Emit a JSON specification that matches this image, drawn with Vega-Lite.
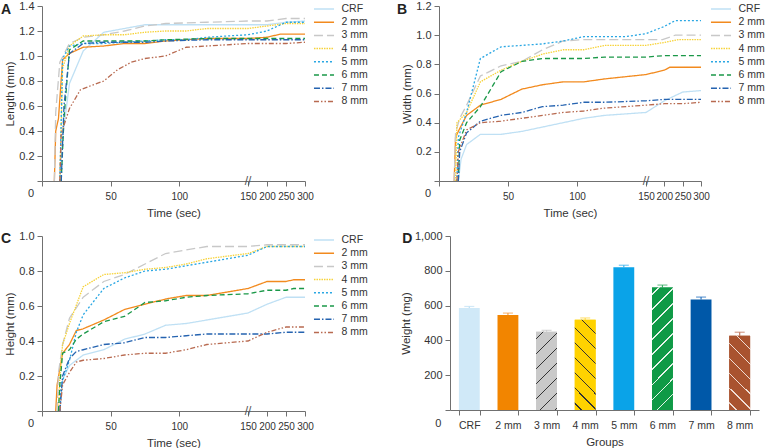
{
"$schema":"https://vega.github.io/schema/vega-lite/v6.json",
"padding":{"left":0,"top":0,"right":0,"bottom":0},
"config":{"font":"Liberation Sans","view":{"stroke":null},
 "axis":{"domainColor":"#707070","tickColor":"#707070","labelColor":"#333","titleColor":"#333","labelFontSize":11,"titleFontSize":11.5,"titleFontWeight":"normal","grid":false,"tickSize":5,"labelOverlap":false,"tickCount":20},
 "axisX":{"labelPadding":5,"titlePadding":6},
 "axisY":{"labelPadding":3,"titlePadding":3},
 "text":{"color":"#333","fontSize":11},
 "legend":{"padding":0}},
"datasets":{
"len":[
{"g":"CRF","t":13,"v":0},{"g":"CRF","t":15,"v":0.35},{"g":"CRF","t":20,"v":0.78},{"g":"CRF","t":30,"v":1.04},{"g":"CRF","t":45,"v":1.19},{"g":"CRF","t":75,"v":1.25},{"g":"CRF","t":150,"v":1.25},{"g":"CRF","t":200,"v":1.25},{"g":"CRF","t":250,"v":1.27},{"g":"CRF","t":300,"v":1.28},
{"g":"2 mm","t":9,"v":0},{"g":"2 mm","t":10,"v":0.4},{"g":"2 mm","t":12,"v":0.5},{"g":"2 mm","t":15,"v":0.97},{"g":"2 mm","t":20,"v":1.02},{"g":"2 mm","t":30,"v":1.07},{"g":"2 mm","t":45,"v":1.08},{"g":"2 mm","t":60,"v":1.1},{"g":"2 mm","t":75,"v":1.1},{"g":"2 mm","t":90,"v":1.12},{"g":"2 mm","t":120,"v":1.14},{"g":"2 mm","t":150,"v":1.14},{"g":"2 mm","t":200,"v":1.15},{"g":"2 mm","t":235,"v":1.175},{"g":"2 mm","t":300,"v":1.175},
{"g":"3 mm","t":9,"v":0},{"g":"3 mm","t":10,"v":0.55},{"g":"3 mm","t":13,"v":0.95},{"g":"3 mm","t":20,"v":1.1},{"g":"3 mm","t":30,"v":1.15},{"g":"3 mm","t":45,"v":1.17},{"g":"3 mm","t":60,"v":1.2},{"g":"3 mm","t":75,"v":1.24},{"g":"3 mm","t":90,"v":1.26},{"g":"3 mm","t":120,"v":1.27},{"g":"3 mm","t":150,"v":1.28},{"g":"3 mm","t":200,"v":1.28},{"g":"3 mm","t":250,"v":1.3},{"g":"3 mm","t":300,"v":1.3},
{"g":"4 mm","t":13,"v":0},{"g":"4 mm","t":15,"v":0.9},{"g":"4 mm","t":20,"v":1.08},{"g":"4 mm","t":30,"v":1.16},{"g":"4 mm","t":45,"v":1.17},{"g":"4 mm","t":60,"v":1.17},{"g":"4 mm","t":75,"v":1.19},{"g":"4 mm","t":90,"v":1.2},{"g":"4 mm","t":105,"v":1.2},{"g":"4 mm","t":120,"v":1.22},{"g":"4 mm","t":150,"v":1.22},{"g":"4 mm","t":200,"v":1.24},{"g":"4 mm","t":250,"v":1.26},{"g":"4 mm","t":300,"v":1.26},
{"g":"5 mm","t":13,"v":0},{"g":"5 mm","t":15,"v":0.98},{"g":"5 mm","t":20,"v":1.08},{"g":"5 mm","t":30,"v":1.1},{"g":"5 mm","t":45,"v":1.1},{"g":"5 mm","t":60,"v":1.11},{"g":"5 mm","t":75,"v":1.12},{"g":"5 mm","t":90,"v":1.13},{"g":"5 mm","t":105,"v":1.13},{"g":"5 mm","t":120,"v":1.15},{"g":"5 mm","t":150,"v":1.17},{"g":"5 mm","t":200,"v":1.2},{"g":"5 mm","t":250,"v":1.27},{"g":"5 mm","t":300,"v":1.27},
{"g":"6 mm","t":14,"v":0},{"g":"6 mm","t":16,"v":0.5},{"g":"6 mm","t":20,"v":1.05},{"g":"6 mm","t":30,"v":1.12},{"g":"6 mm","t":45,"v":1.12},{"g":"6 mm","t":60,"v":1.12},{"g":"6 mm","t":75,"v":1.12},{"g":"6 mm","t":90,"v":1.13},{"g":"6 mm","t":120,"v":1.14},{"g":"6 mm","t":150,"v":1.14},{"g":"6 mm","t":200,"v":1.14},{"g":"6 mm","t":250,"v":1.14},{"g":"6 mm","t":300,"v":1.14},
{"g":"7 mm","t":14,"v":0},{"g":"7 mm","t":16,"v":0.6},{"g":"7 mm","t":20,"v":1.02},{"g":"7 mm","t":30,"v":1.1},{"g":"7 mm","t":45,"v":1.11},{"g":"7 mm","t":60,"v":1.11},{"g":"7 mm","t":75,"v":1.11},{"g":"7 mm","t":90,"v":1.12},{"g":"7 mm","t":120,"v":1.13},{"g":"7 mm","t":150,"v":1.13},{"g":"7 mm","t":200,"v":1.13},{"g":"7 mm","t":250,"v":1.13},{"g":"7 mm","t":300,"v":1.13},
{"g":"8 mm","t":13,"v":0},{"g":"8 mm","t":14,"v":0.38},{"g":"8 mm","t":20,"v":0.58},{"g":"8 mm","t":28,"v":0.73},{"g":"8 mm","t":35,"v":0.76},{"g":"8 mm","t":45,"v":0.8},{"g":"8 mm","t":55,"v":0.89},{"g":"8 mm","t":65,"v":0.95},{"g":"8 mm","t":75,"v":0.98},{"g":"8 mm","t":90,"v":1.0},{"g":"8 mm","t":105,"v":1.07},{"g":"8 mm","t":120,"v":1.08},{"g":"8 mm","t":150,"v":1.1},{"g":"8 mm","t":200,"v":1.1},{"g":"8 mm","t":250,"v":1.1},{"g":"8 mm","t":300,"v":1.11}
],
"wid":[
{"g":"CRF","t":14,"v":0},{"g":"CRF","t":16,"v":0.15},{"g":"CRF","t":20,"v":0.25},{"g":"CRF","t":30,"v":0.32},{"g":"CRF","t":45,"v":0.32},{"g":"CRF","t":60,"v":0.34},{"g":"CRF","t":75,"v":0.37},{"g":"CRF","t":90,"v":0.4},{"g":"CRF","t":105,"v":0.43},{"g":"CRF","t":120,"v":0.45},{"g":"CRF","t":150,"v":0.47},{"g":"CRF","t":200,"v":0.55},{"g":"CRF","t":250,"v":0.61},{"g":"CRF","t":300,"v":0.62},
{"g":"2 mm","t":11,"v":0},{"g":"2 mm","t":12,"v":0.3},{"g":"2 mm","t":15,"v":0.36},{"g":"2 mm","t":20,"v":0.45},{"g":"2 mm","t":30,"v":0.52},{"g":"2 mm","t":45,"v":0.56},{"g":"2 mm","t":60,"v":0.63},{"g":"2 mm","t":75,"v":0.66},{"g":"2 mm","t":90,"v":0.68},{"g":"2 mm","t":105,"v":0.68},{"g":"2 mm","t":120,"v":0.7},{"g":"2 mm","t":150,"v":0.73},{"g":"2 mm","t":200,"v":0.76},{"g":"2 mm","t":215,"v":0.78},{"g":"2 mm","t":300,"v":0.78},
{"g":"3 mm","t":11,"v":0},{"g":"3 mm","t":12,"v":0.33},{"g":"3 mm","t":15,"v":0.43},{"g":"3 mm","t":20,"v":0.52},{"g":"3 mm","t":30,"v":0.72},{"g":"3 mm","t":45,"v":0.79},{"g":"3 mm","t":60,"v":0.82},{"g":"3 mm","t":75,"v":0.9},{"g":"3 mm","t":90,"v":0.96},{"g":"3 mm","t":105,"v":0.97},{"g":"3 mm","t":150,"v":0.97},{"g":"3 mm","t":195,"v":0.97},{"g":"3 mm","t":230,"v":1.0},{"g":"3 mm","t":300,"v":1.0},
{"g":"4 mm","t":12,"v":0},{"g":"4 mm","t":13,"v":0.4},{"g":"4 mm","t":20,"v":0.47},{"g":"4 mm","t":30,"v":0.68},{"g":"4 mm","t":45,"v":0.76},{"g":"4 mm","t":60,"v":0.82},{"g":"4 mm","t":75,"v":0.87},{"g":"4 mm","t":90,"v":0.9},{"g":"4 mm","t":105,"v":0.9},{"g":"4 mm","t":120,"v":0.93},{"g":"4 mm","t":150,"v":0.93},{"g":"4 mm","t":200,"v":0.95},{"g":"4 mm","t":240,"v":0.97},{"g":"4 mm","t":300,"v":0.97},
{"g":"5 mm","t":13,"v":0},{"g":"5 mm","t":14,"v":0.3},{"g":"5 mm","t":20,"v":0.47},{"g":"5 mm","t":30,"v":0.84},{"g":"5 mm","t":45,"v":0.92},{"g":"5 mm","t":60,"v":0.93},{"g":"5 mm","t":75,"v":0.94},{"g":"5 mm","t":90,"v":0.96},{"g":"5 mm","t":105,"v":0.99},{"g":"5 mm","t":135,"v":0.99},{"g":"5 mm","t":150,"v":1.01},{"g":"5 mm","t":200,"v":1.06},{"g":"5 mm","t":230,"v":1.1},{"g":"5 mm","t":300,"v":1.1},
{"g":"6 mm","t":14,"v":0},{"g":"6 mm","t":15,"v":0.28},{"g":"6 mm","t":20,"v":0.4},{"g":"6 mm","t":30,"v":0.51},{"g":"6 mm","t":45,"v":0.75},{"g":"6 mm","t":60,"v":0.82},{"g":"6 mm","t":75,"v":0.84},{"g":"6 mm","t":105,"v":0.84},{"g":"6 mm","t":120,"v":0.85},{"g":"6 mm","t":150,"v":0.85},{"g":"6 mm","t":200,"v":0.86},{"g":"6 mm","t":250,"v":0.86},{"g":"6 mm","t":300,"v":0.86},
{"g":"7 mm","t":14,"v":0},{"g":"7 mm","t":15,"v":0.2},{"g":"7 mm","t":20,"v":0.33},{"g":"7 mm","t":30,"v":0.41},{"g":"7 mm","t":45,"v":0.45},{"g":"7 mm","t":60,"v":0.47},{"g":"7 mm","t":75,"v":0.51},{"g":"7 mm","t":90,"v":0.52},{"g":"7 mm","t":105,"v":0.54},{"g":"7 mm","t":120,"v":0.54},{"g":"7 mm","t":150,"v":0.55},{"g":"7 mm","t":200,"v":0.56},{"g":"7 mm","t":300,"v":0.56},
{"g":"8 mm","t":13,"v":0},{"g":"8 mm","t":14,"v":0.2},{"g":"8 mm","t":20,"v":0.35},{"g":"8 mm","t":30,"v":0.4},{"g":"8 mm","t":45,"v":0.41},{"g":"8 mm","t":60,"v":0.43},{"g":"8 mm","t":75,"v":0.45},{"g":"8 mm","t":90,"v":0.47},{"g":"8 mm","t":105,"v":0.48},{"g":"8 mm","t":120,"v":0.5},{"g":"8 mm","t":150,"v":0.52},{"g":"8 mm","t":200,"v":0.53},{"g":"8 mm","t":250,"v":0.53},{"g":"8 mm","t":300,"v":0.54}
],
"hei":[
{"g":"CRF","t":13,"v":0},{"g":"CRF","t":15,"v":0.18},{"g":"CRF","t":20,"v":0.26},{"g":"CRF","t":30,"v":0.32},{"g":"CRF","t":45,"v":0.35},{"g":"CRF","t":60,"v":0.41},{"g":"CRF","t":75,"v":0.44},{"g":"CRF","t":90,"v":0.49},{"g":"CRF","t":105,"v":0.5},{"g":"CRF","t":120,"v":0.52},{"g":"CRF","t":150,"v":0.56},{"g":"CRF","t":200,"v":0.61},{"g":"CRF","t":250,"v":0.65},{"g":"CRF","t":300,"v":0.65},
{"g":"2 mm","t":10,"v":0},{"g":"2 mm","t":11,"v":0.15},{"g":"2 mm","t":15,"v":0.33},{"g":"2 mm","t":20,"v":0.38},{"g":"2 mm","t":25,"v":0.46},{"g":"2 mm","t":30,"v":0.47},{"g":"2 mm","t":45,"v":0.52},{"g":"2 mm","t":60,"v":0.58},{"g":"2 mm","t":75,"v":0.61},{"g":"2 mm","t":90,"v":0.64},{"g":"2 mm","t":105,"v":0.66},{"g":"2 mm","t":120,"v":0.66},{"g":"2 mm","t":150,"v":0.7},{"g":"2 mm","t":200,"v":0.74},{"g":"2 mm","t":250,"v":0.74},{"g":"2 mm","t":270,"v":0.75},{"g":"2 mm","t":300,"v":0.75},
{"g":"3 mm","t":11,"v":0},{"g":"3 mm","t":12,"v":0.22},{"g":"3 mm","t":15,"v":0.38},{"g":"3 mm","t":20,"v":0.53},{"g":"3 mm","t":30,"v":0.65},{"g":"3 mm","t":45,"v":0.74},{"g":"3 mm","t":60,"v":0.78},{"g":"3 mm","t":75,"v":0.84},{"g":"3 mm","t":90,"v":0.9},{"g":"3 mm","t":105,"v":0.92},{"g":"3 mm","t":120,"v":0.94},{"g":"3 mm","t":150,"v":0.94},{"g":"3 mm","t":200,"v":0.95},{"g":"3 mm","t":250,"v":0.95},{"g":"3 mm","t":300,"v":0.95},
{"g":"4 mm","t":12,"v":0},{"g":"4 mm","t":13,"v":0.2},{"g":"4 mm","t":15,"v":0.38},{"g":"4 mm","t":20,"v":0.5},{"g":"4 mm","t":30,"v":0.71},{"g":"4 mm","t":45,"v":0.78},{"g":"4 mm","t":60,"v":0.79},{"g":"4 mm","t":75,"v":0.81},{"g":"4 mm","t":90,"v":0.82},{"g":"4 mm","t":105,"v":0.84},{"g":"4 mm","t":120,"v":0.87},{"g":"4 mm","t":150,"v":0.9},{"g":"4 mm","t":200,"v":0.94},{"g":"4 mm","t":250,"v":0.94},{"g":"4 mm","t":300,"v":0.94},
{"g":"5 mm","t":13,"v":0},{"g":"5 mm","t":14,"v":0.15},{"g":"5 mm","t":20,"v":0.29},{"g":"5 mm","t":25,"v":0.45},{"g":"5 mm","t":30,"v":0.55},{"g":"5 mm","t":45,"v":0.7},{"g":"5 mm","t":60,"v":0.76},{"g":"5 mm","t":75,"v":0.8},{"g":"5 mm","t":90,"v":0.81},{"g":"5 mm","t":105,"v":0.83},{"g":"5 mm","t":120,"v":0.85},{"g":"5 mm","t":150,"v":0.89},{"g":"5 mm","t":200,"v":0.94},{"g":"5 mm","t":250,"v":0.94},{"g":"5 mm","t":300,"v":0.94},
{"g":"6 mm","t":12,"v":0},{"g":"6 mm","t":13,"v":0.15},{"g":"6 mm","t":15,"v":0.33},{"g":"6 mm","t":20,"v":0.35},{"g":"6 mm","t":25,"v":0.41},{"g":"6 mm","t":30,"v":0.44},{"g":"6 mm","t":45,"v":0.51},{"g":"6 mm","t":60,"v":0.54},{"g":"6 mm","t":75,"v":0.62},{"g":"6 mm","t":90,"v":0.63},{"g":"6 mm","t":105,"v":0.65},{"g":"6 mm","t":120,"v":0.66},{"g":"6 mm","t":150,"v":0.67},{"g":"6 mm","t":200,"v":0.69},{"g":"6 mm","t":250,"v":0.69},{"g":"6 mm","t":270,"v":0.7},{"g":"6 mm","t":300,"v":0.7},
{"g":"7 mm","t":13,"v":0},{"g":"7 mm","t":15,"v":0.2},{"g":"7 mm","t":20,"v":0.3},{"g":"7 mm","t":25,"v":0.34},{"g":"7 mm","t":30,"v":0.35},{"g":"7 mm","t":45,"v":0.38},{"g":"7 mm","t":60,"v":0.39},{"g":"7 mm","t":75,"v":0.42},{"g":"7 mm","t":90,"v":0.42},{"g":"7 mm","t":105,"v":0.43},{"g":"7 mm","t":120,"v":0.44},{"g":"7 mm","t":150,"v":0.44},{"g":"7 mm","t":200,"v":0.44},{"g":"7 mm","t":250,"v":0.45},{"g":"7 mm","t":300,"v":0.45},
{"g":"8 mm","t":13,"v":0},{"g":"8 mm","t":15,"v":0.15},{"g":"8 mm","t":20,"v":0.22},{"g":"8 mm","t":25,"v":0.28},{"g":"8 mm","t":30,"v":0.29},{"g":"8 mm","t":45,"v":0.3},{"g":"8 mm","t":60,"v":0.32},{"g":"8 mm","t":75,"v":0.33},{"g":"8 mm","t":90,"v":0.33},{"g":"8 mm","t":105,"v":0.35},{"g":"8 mm","t":120,"v":0.38},{"g":"8 mm","t":150,"v":0.4},{"g":"8 mm","t":200,"v":0.45},{"g":"8 mm","t":250,"v":0.48},{"g":"8 mm","t":300,"v":0.48}
],
"wt":[
{"g":"CRF","w":586,"hi":595},{"g":"2 mm","w":546,"hi":557},{"g":"3 mm","w":450,"hi":458},{"g":"4 mm","w":519,"hi":529},{"g":"5 mm","w":821,"hi":832},{"g":"6 mm","w":704,"hi":718},{"g":"7 mm","w":635,"hi":649},{"g":"8 mm","w":427,"hi":447}
]},
"resolve":{"scale":{"color":"independent","strokeDash":"independent"},"legend":{"color":"independent","strokeDash":"independent"}},
"spacing":11,
"vconcat":[
{"hconcat":[
 {"width":263,"height":175,"data":{"name":"len"},
  "layer":[
   {"mark":{"type":"line","strokeWidth":1.3},
    "encoding":{
     "x":{"field":"t","type":"quantitative","scale":{"domain":[0,150,300],"range":[0,206,263],"nice":false},"axis":{"title":"Time (sec)","values":[0,50,100,150,200,250,300],"tickCount":20,"labelFontSize":10,"labelFlush":false,"labelExpr":"datum.value == 0 ? '' : datum.label"}},
     "y":{"field":"v","type":"quantitative","scale":{"domain":[0,1.4],"nice":false},"axis":{"title":"Length (mm)","values":[0,0.2,0.4,0.6,0.8,1,1.2,1.4],"tickCount":20,"labelExpr":"datum.value == 0 ? '' : format(datum.value, '.1f')"}},
     "color":{"field":"g","type":"nominal","scale":{"domain":["CRF","2 mm","3 mm","4 mm","5 mm","6 mm","7 mm","8 mm"],"range":["#bfe0f4","#f28a1e","#c8c8c8","#f7d33a","#2aa7e3","#1a9848","#2563b0","#b86a50"]},"legend":{"title":null,"orient":"none","legendX":275,"legendY":-4,"symbolType":"M-1.67,0H1.67","symbolSize":144,"symbolStrokeWidth":1.5,"labelFontSize":10.5,"labelColor":"#333","rowPadding":0.2,"labelOffset":10.5}},
     "strokeDash":{"field":"g","type":"nominal","scale":{"domain":["CRF","2 mm","3 mm","4 mm","5 mm","6 mm","7 mm","8 mm"],"range":[[1,0],[1,0],[9,4],[1.5,1],[2,2],[5,3],[6,2,1.5,2],[5,2,1.5,2,1.5,2]]},"legend":{"title":null,"orient":"none","legendX":275,"legendY":-4,"symbolType":"M-1.67,0H1.67","symbolSize":144,"symbolStrokeWidth":1.5,"labelFontSize":10.5,"labelColor":"#333","rowPadding":0.2,"labelOffset":10.5}}}},
   {"data":{"values":[{}]},"mark":{"type":"text","text":"//","fontSize":12,"color":"#555"},"encoding":{"x":{"datum":150,"type":"quantitative"},"y":{"datum":0,"type":"quantitative"}}},
   {"data":{"values":[{}]},"mark":{"type":"text","text":"0","align":"right","dx":-8,"dy":13},"encoding":{"x":{"datum":0,"type":"quantitative"},"y":{"datum":0,"type":"quantitative"}}},
   {"data":{"values":[{}]},"mark":{"type":"text","text":"A","fontSize":14,"fontWeight":"bold","dx":-36,"dy":4,"color":"#222"},"encoding":{"x":{"datum":0,"type":"quantitative"},"y":{"datum":1.4,"type":"quantitative"}}}
  ]},
 {"width":262,"height":175,"data":{"name":"wid"},
  "layer":[
   {"mark":{"type":"line","strokeWidth":1.3},
    "encoding":{
     "x":{"field":"t","type":"quantitative","scale":{"domain":[0,150,300],"range":[0,207,262],"nice":false},"axis":{"title":"Time (sec)","values":[0,50,100,150,200,250,300],"tickCount":20,"labelFontSize":10,"labelFlush":false,"labelExpr":"datum.value == 0 ? '' : datum.label"}},
     "y":{"field":"v","type":"quantitative","scale":{"domain":[0,1.2],"nice":false},"axis":{"title":"Width (mm)","values":[0,0.2,0.4,0.6,0.8,1,1.2],"tickCount":20,"labelExpr":"datum.value == 0 ? '' : format(datum.value, '.1f')"}},
     "color":{"field":"g","type":"nominal","scale":{"domain":["CRF","2 mm","3 mm","4 mm","5 mm","6 mm","7 mm","8 mm"],"range":["#bfe0f4","#f28a1e","#c8c8c8","#f7d33a","#2aa7e3","#1a9848","#2563b0","#b86a50"]},"legend":{"title":null,"orient":"none","legendX":275,"legendY":-4,"symbolType":"M-1.67,0H1.67","symbolSize":144,"symbolStrokeWidth":1.5,"labelFontSize":10.5,"labelColor":"#333","rowPadding":0.2,"labelOffset":10.5}},
     "strokeDash":{"field":"g","type":"nominal","scale":{"domain":["CRF","2 mm","3 mm","4 mm","5 mm","6 mm","7 mm","8 mm"],"range":[[1,0],[1,0],[9,4],[1.5,1],[2,2],[5,3],[6,2,1.5,2],[5,2,1.5,2,1.5,2]]},"legend":{"title":null,"orient":"none","legendX":275,"legendY":-4,"symbolType":"M-1.67,0H1.67","symbolSize":144,"symbolStrokeWidth":1.5,"labelFontSize":10.5,"labelColor":"#333","rowPadding":0.2,"labelOffset":10.5}}}},
   {"data":{"values":[{}]},"mark":{"type":"text","text":"//","fontSize":12,"color":"#555"},"encoding":{"x":{"datum":150,"type":"quantitative"},"y":{"datum":0,"type":"quantitative"}}},
   {"data":{"values":[{}]},"mark":{"type":"text","text":"0","align":"right","dx":-8,"dy":13},"encoding":{"x":{"datum":0,"type":"quantitative"},"y":{"datum":0,"type":"quantitative"}}},
   {"data":{"values":[{}]},"mark":{"type":"text","text":"B","fontSize":14,"fontWeight":"bold","dx":-37,"dy":4,"color":"#222"},"encoding":{"x":{"datum":0,"type":"quantitative"},"y":{"datum":1.2,"type":"quantitative"}}}
  ]}
 ],"spacing":28,
 "resolve":{"scale":{"color":"independent","strokeDash":"independent"},"legend":{"color":"independent","strokeDash":"independent"}}},
{"hconcat":[
 {"width":263,"height":175,"data":{"name":"hei"},
  "layer":[
   {"mark":{"type":"line","strokeWidth":1.3},
    "encoding":{
     "x":{"field":"t","type":"quantitative","scale":{"domain":[0,150,300],"range":[0,206,263],"nice":false},"axis":{"title":"Time (sec)","values":[0,50,100,150,200,250,300],"tickCount":20,"labelFontSize":10,"labelFlush":false,"labelExpr":"datum.value == 0 ? '' : datum.label"}},
     "y":{"field":"v","type":"quantitative","scale":{"domain":[0,1.0],"nice":false},"axis":{"title":"Height (mm)","values":[0,0.2,0.4,0.6,0.8,1],"tickCount":20,"labelExpr":"datum.value == 0 ? '' : format(datum.value, '.1f')"}},
     "color":{"field":"g","type":"nominal","scale":{"domain":["CRF","2 mm","3 mm","4 mm","5 mm","6 mm","7 mm","8 mm"],"range":["#bfe0f4","#f28a1e","#c8c8c8","#f7d33a","#2aa7e3","#1a9848","#2563b0","#b86a50"]},"legend":{"title":null,"orient":"none","legendX":275,"legendY":-3,"symbolType":"M-1.67,0H1.67","symbolSize":144,"symbolStrokeWidth":1.5,"labelFontSize":10.5,"labelColor":"#333","rowPadding":0.2,"labelOffset":10.5}},
     "strokeDash":{"field":"g","type":"nominal","scale":{"domain":["CRF","2 mm","3 mm","4 mm","5 mm","6 mm","7 mm","8 mm"],"range":[[1,0],[1,0],[9,4],[1.5,1],[2,2],[5,3],[6,2,1.5,2],[5,2,1.5,2,1.5,2]]},"legend":{"title":null,"orient":"none","legendX":275,"legendY":-3,"symbolType":"M-1.67,0H1.67","symbolSize":144,"symbolStrokeWidth":1.5,"labelFontSize":10.5,"labelColor":"#333","rowPadding":0.2,"labelOffset":10.5}}}},
   {"data":{"values":[{}]},"mark":{"type":"text","text":"//","fontSize":12,"color":"#555"},"encoding":{"x":{"datum":150,"type":"quantitative"},"y":{"datum":0,"type":"quantitative"}}},
   {"data":{"values":[{}]},"mark":{"type":"text","text":"0","align":"right","dx":-8,"dy":13},"encoding":{"x":{"datum":0,"type":"quantitative"},"y":{"datum":0,"type":"quantitative"}}},
   {"data":{"values":[{}]},"mark":{"type":"text","text":"C","fontSize":14,"fontWeight":"bold","dx":-36,"dy":3,"color":"#222"},"encoding":{"x":{"datum":0,"type":"quantitative"},"y":{"datum":1.0,"type":"quantitative"}}}
  ]},
 {"width":309,"height":174,
  "layer":[
   {"data":{"name":"wt"},"mark":{"type":"rule","strokeWidth":1.2},"encoding":{
     "x":{"field":"g","type":"nominal","sort":null,"scale":{"paddingInner":0.46,"paddingOuter":0.23},"axis":{"title":"Groups","tickBand":"extent","labelAngle":0,"labelFontSize":10.5}},
     "y":{"field":"w","type":"quantitative","scale":{"domain":[0,1000],"nice":false},"axis":{"title":"Weight (mg)","values":[0,200,400,600,800,1000],"tickCount":20,"labelExpr":"datum.value == 0 ? '' : format(datum.value, ',')"}},
     "y2":{"field":"hi"},"color":{"field":"g","type":"nominal","scale":{"domain":["CRF","2 mm","3 mm","4 mm","5 mm","6 mm","7 mm","8 mm"],"range":["#bfe0f4","#f5a04a","#c8c8c8","#ffd84a","#3ab4ee","#3aae66","#2a74c0","#c0735a"]},"legend":null}}},
   {"data":{"name":"wt"},"mark":{"type":"tick","thickness":1.2,"size":10},"encoding":{"x":{"field":"g","type":"nominal","sort":null},"y":{"field":"hi","type":"quantitative"},"color":{"field":"g","type":"nominal","legend":null}}},
   {"data":{"name":"wt"},"mark":{"type":"bar"},"encoding":{"x":{"field":"g","type":"nominal","sort":null},"y":{"field":"w","type":"quantitative"},"fill":{"field":"g","type":"nominal","scale":{"domain":["CRF","2 mm","3 mm","4 mm","5 mm","6 mm","7 mm","8 mm"],"range":["#d0e9f8","#f28500","#c9c9c9","#ffd200","#0aa3e8","#0f9a46","#0058a8","#a9532f"]},"legend":null}}},
   {"data":{"name":"wt"},"transform":[{"filter":"datum.g == '3 mm'"}],"encoding":{"x":{"field":"g","type":"nominal","sort":null},"y":{"field":"w","type":"quantitative"}},"mark":{"type":"bar","fill":{"gradient":"linear","x1":0,"y1":0,"x2":0.315,"y2":1.1824,"stops":[
    {"offset":0,"color":"#c9c9c9"},
    {"offset":0.0625,"color":"#c9c9c9"},{"offset":0.0625,"color":"#333333"},{"offset":0.0787,"color":"#333333"},{"offset":0.0787,"color":"#c9c9c9"},
    {"offset":0.2138,"color":"#c9c9c9"},{"offset":0.2138,"color":"#333333"},{"offset":0.2300,"color":"#333333"},{"offset":0.2300,"color":"#c9c9c9"},
    {"offset":0.3650,"color":"#c9c9c9"},{"offset":0.3650,"color":"#333333"},{"offset":0.3812,"color":"#333333"},{"offset":0.3812,"color":"#c9c9c9"},
    {"offset":0.5163,"color":"#c9c9c9"},{"offset":0.5163,"color":"#333333"},{"offset":0.5325,"color":"#333333"},{"offset":0.5325,"color":"#c9c9c9"},
    {"offset":0.6676,"color":"#c9c9c9"},{"offset":0.6676,"color":"#333333"},{"offset":0.6838,"color":"#333333"},{"offset":0.6838,"color":"#c9c9c9"},
    {"offset":0.8188,"color":"#c9c9c9"},{"offset":0.8188,"color":"#333333"},{"offset":0.8350,"color":"#333333"},{"offset":0.8350,"color":"#c9c9c9"},
    {"offset":0.9701,"color":"#c9c9c9"},{"offset":0.9701,"color":"#333333"},{"offset":0.9863,"color":"#333333"},{"offset":0.9863,"color":"#c9c9c9"},
    {"offset":1,"color":"#c9c9c9"}]}}},
   {"data":{"name":"wt"},"transform":[{"filter":"datum.g == '4 mm'"}],"encoding":{"x":{"field":"g","type":"nominal","sort":null},"y":{"field":"w","type":"quantitative"}},"mark":{"type":"bar","fill":{"gradient":"linear","x1":0,"y1":1,"x2":0.2706,"y2":-0.1688,"stops":[
    {"offset":0,"color":"#ffd200"},
    {"offset":0.0559,"color":"#ffd200"},{"offset":0.0559,"color":"#333333"},{"offset":0.0703,"color":"#333333"},{"offset":0.0703,"color":"#ffd200"},
    {"offset":0.1911,"color":"#ffd200"},{"offset":0.1911,"color":"#333333"},{"offset":0.2055,"color":"#333333"},{"offset":0.2055,"color":"#ffd200"},
    {"offset":0.3263,"color":"#ffd200"},{"offset":0.3263,"color":"#333333"},{"offset":0.3407,"color":"#333333"},{"offset":0.3407,"color":"#ffd200"},
    {"offset":0.4614,"color":"#ffd200"},{"offset":0.4614,"color":"#333333"},{"offset":0.4758,"color":"#333333"},{"offset":0.4758,"color":"#ffd200"},
    {"offset":0.5966,"color":"#ffd200"},{"offset":0.5966,"color":"#333333"},{"offset":0.6110,"color":"#333333"},{"offset":0.6110,"color":"#ffd200"},
    {"offset":0.7318,"color":"#ffd200"},{"offset":0.7318,"color":"#333333"},{"offset":0.7462,"color":"#333333"},{"offset":0.7462,"color":"#ffd200"},
    {"offset":0.8670,"color":"#ffd200"},{"offset":0.8670,"color":"#333333"},{"offset":0.8814,"color":"#333333"},{"offset":0.8814,"color":"#ffd200"},
    {"offset":1,"color":"#ffd200"}]}}},
   {"data":{"name":"wt"},"transform":[{"filter":"datum.g == '6 mm'"}],"encoding":{"x":{"field":"g","type":"nominal","sort":null},"y":{"field":"w","type":"quantitative"}},"mark":{"type":"bar","fill":{"gradient":"linear","x1":0,"y1":0,"x2":0.1944,"y2":1.1376,"stops":[
    {"offset":0,"color":"#0f9a46"},
    {"offset":0.0434,"color":"#0f9a46"},{"offset":0.0434,"color":"#e6f4ea"},{"offset":0.0546,"color":"#e6f4ea"},{"offset":0.0546,"color":"#0f9a46"},
    {"offset":0.1483,"color":"#0f9a46"},{"offset":0.1483,"color":"#e6f4ea"},{"offset":0.1595,"color":"#e6f4ea"},{"offset":0.1595,"color":"#0f9a46"},
    {"offset":0.2532,"color":"#0f9a46"},{"offset":0.2532,"color":"#e6f4ea"},{"offset":0.2644,"color":"#e6f4ea"},{"offset":0.2644,"color":"#0f9a46"},
    {"offset":0.3581,"color":"#0f9a46"},{"offset":0.3581,"color":"#e6f4ea"},{"offset":0.3693,"color":"#e6f4ea"},{"offset":0.3693,"color":"#0f9a46"},
    {"offset":0.4631,"color":"#0f9a46"},{"offset":0.4631,"color":"#e6f4ea"},{"offset":0.4743,"color":"#e6f4ea"},{"offset":0.4743,"color":"#0f9a46"},
    {"offset":0.5680,"color":"#0f9a46"},{"offset":0.5680,"color":"#e6f4ea"},{"offset":0.5792,"color":"#e6f4ea"},{"offset":0.5792,"color":"#0f9a46"},
    {"offset":0.6729,"color":"#0f9a46"},{"offset":0.6729,"color":"#e6f4ea"},{"offset":0.6841,"color":"#e6f4ea"},{"offset":0.6841,"color":"#0f9a46"},
    {"offset":0.7778,"color":"#0f9a46"},{"offset":0.7778,"color":"#e6f4ea"},{"offset":0.7890,"color":"#e6f4ea"},{"offset":0.7890,"color":"#0f9a46"},
    {"offset":0.8828,"color":"#0f9a46"},{"offset":0.8828,"color":"#e6f4ea"},{"offset":0.8940,"color":"#e6f4ea"},{"offset":0.8940,"color":"#0f9a46"},
    {"offset":1,"color":"#0f9a46"}]}}},
   {"data":{"name":"wt"},"transform":[{"filter":"datum.g == '8 mm'"}],"encoding":{"x":{"field":"g","type":"nominal","sort":null},"y":{"field":"w","type":"quantitative"}},"mark":{"type":"bar","fill":{"gradient":"linear","x1":0,"y1":1,"x2":0.3323,"y2":-0.1869,"stops":[
    {"offset":0,"color":"#a9532f"},
    {"offset":0.0650,"color":"#a9532f"},{"offset":0.0650,"color":"#f0ddd4"},{"offset":0.0818,"color":"#f0ddd4"},{"offset":0.0818,"color":"#a9532f"},
    {"offset":0.2223,"color":"#a9532f"},{"offset":0.2223,"color":"#f0ddd4"},{"offset":0.2391,"color":"#f0ddd4"},{"offset":0.2391,"color":"#a9532f"},
    {"offset":0.3796,"color":"#a9532f"},{"offset":0.3796,"color":"#f0ddd4"},{"offset":0.3964,"color":"#f0ddd4"},{"offset":0.3964,"color":"#a9532f"},
    {"offset":0.5369,"color":"#a9532f"},{"offset":0.5369,"color":"#f0ddd4"},{"offset":0.5537,"color":"#f0ddd4"},{"offset":0.5537,"color":"#a9532f"},
    {"offset":0.6942,"color":"#a9532f"},{"offset":0.6942,"color":"#f0ddd4"},{"offset":0.7110,"color":"#f0ddd4"},{"offset":0.7110,"color":"#a9532f"},
    {"offset":0.8515,"color":"#a9532f"},{"offset":0.8515,"color":"#f0ddd4"},{"offset":0.8683,"color":"#f0ddd4"},{"offset":0.8683,"color":"#a9532f"},
    {"offset":1,"color":"#a9532f"}]}}},
   {"data":{"values":[{"g":"CRF","w":0}]},"mark":{"type":"text","text":"0","align":"right","dx":-28,"dy":14},"encoding":{"x":{"field":"g","type":"nominal","sort":null},"y":{"field":"w","type":"quantitative"}}},
   {"data":{"values":[{"g":"CRF","w":1000}]},"mark":{"type":"text","text":"D","fontSize":14,"fontWeight":"bold","dx":-62,"dy":3,"color":"#222"},"encoding":{"x":{"field":"g","type":"nominal","sort":null},"y":{"field":"w","type":"quantitative"}}}
  ]}
 ],"spacing":32,
 "resolve":{"scale":{"color":"independent","strokeDash":"independent"},"legend":{"color":"independent","strokeDash":"independent"}}}
]}
